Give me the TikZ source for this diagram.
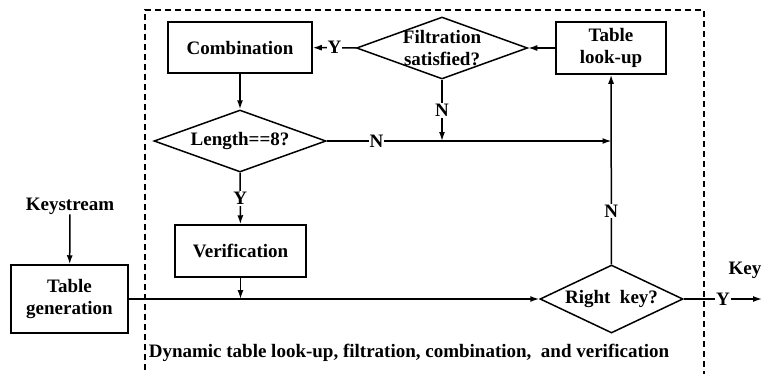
\documentclass[tikz,border=0pt]{standalone}
\usepackage{fontspec}
\setmainfont{Liberation Serif}
\usetikzlibrary{arrows.meta,positioning,shapes.geometric}
\tikzset{
  box/.style={draw,line width=1.5pt,inner sep=2pt,align=center},
  dia/.style={draw,diamond,line width=1.5pt,inner sep=0pt},
  txt/.style={align=center,inner sep=0pt},
  nyil/.style={line width=1.5pt,-{Latex[length=9pt,width=6pt]}},
  vonal/.style={line width=1.5pt},
  yn/.style={fill=white,inner sep=1pt},
}

\begin{document}
\begin{tikzpicture}[x=1pt,y=-1pt,font=\fontsize{19}{22}\selectfont\bfseries]
  \useasboundingbox (0,0) rectangle (767,373);
  \draw[vonal,line width=1.3pt,dash pattern=on 6pt off 4pt] (145,380) -- (145,10) -- (704,10) -- (704,380);
  % boxes and decisions
  \node[box,minimum width=144,minimum height=51] (comb) at (240,47.5) {Combination};
  \node[dia,minimum width=171,minimum height=62,label={[txt]center:Filtration\\satisfied?}] (filt) at (442,48) {};
  \node[box,minimum width=110,minimum height=52] (look) at (611,48) {Table\\look-up};
  \node[dia,minimum width=172,minimum height=62,label={[txt]center:Length==8?}] (len) at (240,141) {};
  \node[box,minimum width=131,minimum height=52] (ver) at (240.5,251) {Verification};
  \node[box,minimum width=117,minimum height=68] (gen) at (69.5,299) {Table\\generation};
  \node[txt] (ks) at (70,206) {Keystream};
  \node[dia,minimum width=143,minimum height=68,label={[txt]center:Right\ \ key?}] (right) at (611.5,299) {};
  \node[txt] (key) at (745,270) {Key};
  \node[txt] (cap) at (409,353) {Dynamic table look-up, filtration, combination,\ \ and verification};
  \coordinate (j1) at (611.5,141);
  \coordinate (j2) at (442,141);
  \coordinate (j3) at (240.5,299);
  \coordinate (out) at (762,299);
  % connectors
  \draw[nyil] (look) -- (filt);
  \draw[nyil] (filt) -- node[yn] {Y} (comb);
  \draw[nyil] (filt) -- node[yn] {N} (j2);
  \draw[nyil] (comb) -- (len);
  \draw[nyil] (len.east) -- node[yn,pos=0.175] {N} (j1);
  \draw[nyil] (len) -- node[yn] {Y} (ver);
  \draw[nyil] (ver) -- (j3);
  \draw[nyil] (ks) -- (gen);
  \draw[nyil] (gen) -- (right);
  \draw[nyil] (right) -- node[yn,pos=0.28] {N} (look);
  \draw[nyil] (right) -- node[yn] {Y} (out);
\end{tikzpicture}
\end{document}
